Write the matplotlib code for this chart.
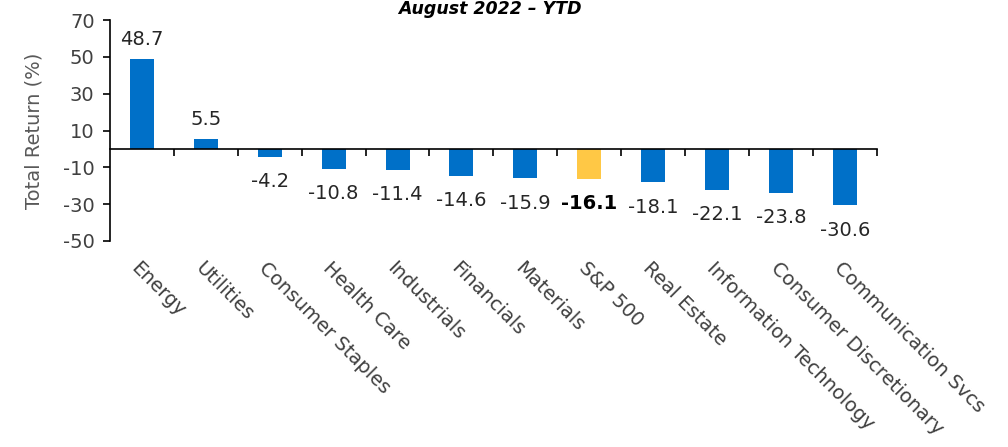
import matplotlib.pyplot as plt
import numpy as np
from matplotlib.transforms import blended_transform_factory

plt.rcParams['font.family'] = ['DejaVu Sans']
plt.rcParams['axes.unicode_minus'] = False

sectors = ["Energy", "Utilities", "Consumer Staples", "Health Care", "Industrials",
           "Financials", "Materials", "S&P 500", "Real Estate",
           "Information Technology", "Consumer Discretionary", "Communication Svcs"]
returns = [48.7, 5.5, -4.2, -10.8, -11.4, -14.6, -15.9, -16.1, -18.1, -22.1, -23.8, -30.6]
highlight = "S&P 500"

blue = "#0070C8"
gold = "#FFC845"
text_col = "#262626"
tick_col = "#404040"
fs = 14

fig = plt.figure(figsize=(10.08, 4.47), dpi=100)
ax = fig.add_axes([0.109, 0.461, 0.761, 0.494])

x = np.arange(len(sectors))
colors = [gold if s == highlight else blue for s in sectors]
bars = ax.bar(x, returns, 0.375, color=colors, zorder=2)

# value labels, outside end of each bar
for xi, v, s in zip(x, returns, sectors):
    off = 14 if v > 0 else -18
    ax.annotate(f"{v:.1f}", (xi, v), xytext=(0, off), textcoords="offset points",
                ha="center", va="center", fontsize=fs, color="black" if s == highlight else text_col,
                fontweight="bold" if s == highlight else "normal")

ax.set_xlim(-0.5, len(sectors) - 0.5)
ax.set_ylim(-50, 70)
ax.set_yticks(np.arange(-50, 71, 20))
ax.tick_params(axis='y', labelsize=fs, labelcolor=tick_col, length=5, width=1.2,
               direction='out', pad=6)
ax.set_ylabel("Total Return (%)", fontsize=fs, color="#595959", labelpad=14)

# category axis sits on zero, ticks between categories
ax.spines['top'].set_visible(False)
ax.spines['right'].set_visible(False)
ax.spines['bottom'].set_position(('data', 0))
ax.spines['bottom'].set_linewidth(1.2)
ax.spines['left'].set_linewidth(1.2)
ax.set_xticks(x + 0.5)
ax.set_xticklabels([])
ax.tick_params(axis='x', length=5, width=1.2, direction='out')

trans = blended_transform_factory(ax.transData, ax.transAxes)
for xi, s in zip(x, sectors):
    ax.text(xi - 0.12, -0.11, s, transform=trans, rotation=-45, rotation_mode='anchor',
            ha='left', va='center', fontsize=fs, color=tick_col)

fig.text(0.486, 0.999, "August 2022 \u2013 YTD", ha='center', va='top',
         fontsize=12.5, fontweight='bold', fontstyle='italic', color='black')

fig.savefig("out.png", dpi=100)
